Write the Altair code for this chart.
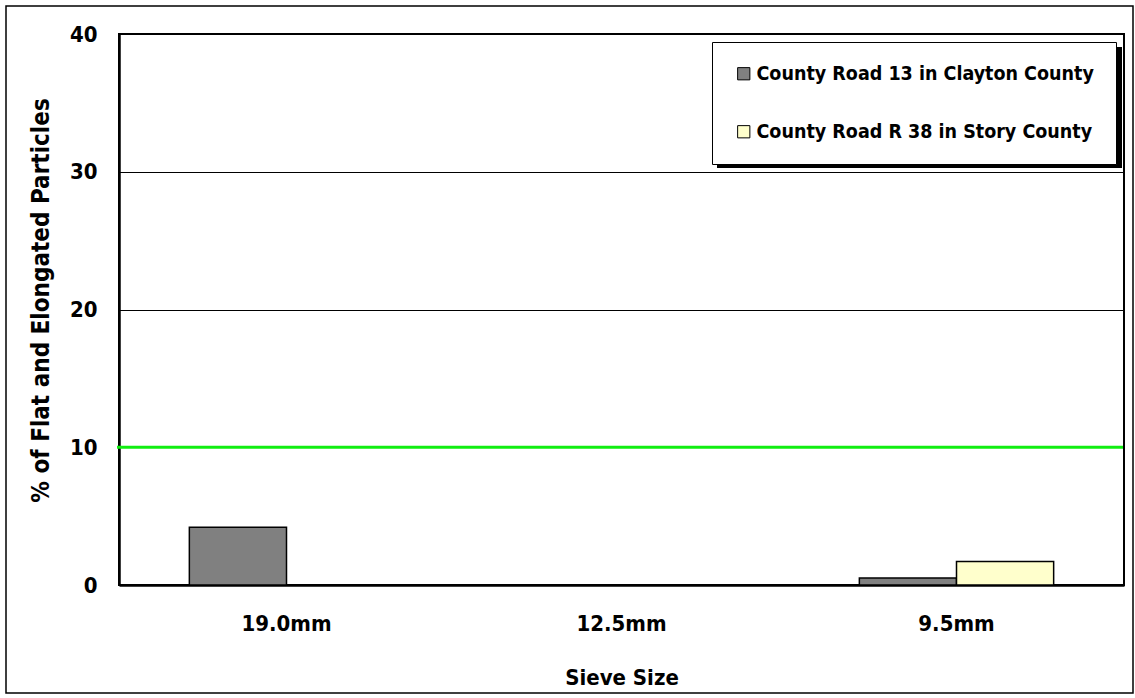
import altair as alt
import pandas as pd

# Sieve sizes on the x axis and the two aggregate sources
sieves = ["19.0mm", "12.5mm", "9.5mm"]
sources = ["County Road 13 in Clayton County", "County Road R 38 in Story County"]
source_colors = ["#808080", "#ffffcc"]

# % of flat and elongated particles per sieve (None = no measurement)
clayton_pct = [4.2, None, 0.5]
story_pct = [None, None, 1.7]

# specification limit drawn as a horizontal line
limit_pct = [10]

FONT = "DejaVu Sans Condensed, sans-serif"

rows = []
for sieve, c, s in zip(sieves, clayton_pct, story_pct):
    if c is not None:
        rows.append({"Sieve": sieve, "Source": sources[0], "Pct": c})
    if s is not None:
        rows.append({"Sieve": sieve, "Source": sources[1], "Pct": s})
df = pd.DataFrame(rows)
limit_df = pd.DataFrame({"Limit": limit_pct})

bars = alt.Chart(df).mark_bar(stroke="black", strokeWidth=1.5).encode(
    x=alt.X(
        "Sieve:N",
        sort=sieves,
        scale=alt.Scale(domain=sieves, paddingInner=0.42, paddingOuter=0.21),
        axis=alt.Axis(title="Sieve Size", labelAngle=0, ticks=False,
                      labelPadding=28, titlePadding=33),
    ),
    xOffset=alt.XOffset("Source:N", sort=sources, scale=alt.Scale(domain=sources)),
    y=alt.Y(
        "Pct:Q",
        scale=alt.Scale(domain=[0, 40], nice=False),
        axis=alt.Axis(title="% of Flat and Elongated Particles", values=[0, 10, 20, 30, 40],
                      ticks=False, labelPadding=22, titlePadding=16, titleFontSize=24,
                      titleY=266),
    ),
    color=alt.Color(
        "Source:N",
        sort=sources,
        scale=alt.Scale(domain=sources, range=source_colors),
        legend=alt.Legend(
            title=None, orient="none", legendX=593, legendY=8,
            symbolType="square", symbolSize=150, symbolStrokeColor="black",
            symbolStrokeWidth=1, labelFontSize=19.5, labelFont=FONT,
            labelFontWeight="bold", labelColor="black", rowPadding=37,
            padding=22, fillColor="white", strokeColor="black",
            labelLimit=500, labelOffset=3,
        ),
    ),
)

# drop shadow behind the legend box
shadow = alt.Chart(limit_df).mark_rect(color="black").encode(
    x=alt.value(598), x2=alt.value(1003), y=alt.value(13), y2=alt.value(134)
)

# outer chart frame
frame = alt.Chart(limit_df).mark_rect(fill=None, stroke="black", strokeWidth=1.5).encode(
    x=alt.value(-113), x2=alt.value(1014), y=alt.value(-28), y2=alt.value(659)
)

limit_line = alt.Chart(limit_df).mark_rule(color="#11ee11", strokeWidth=3).encode(
    y=alt.Y("Limit:Q"), x=alt.value(-2), x2=alt.value(1004)
)

chart = (
    alt.layer(frame, bars, limit_line, shadow)
    .properties(
        width=1005, height=551,
        autosize=alt.AutoSizeParams(type="none"),
        padding={"left": 119, "top": 34, "right": 11, "bottom": 113},
        background="white",
    )
    .configure_view(stroke="black", strokeWidth=2)
    .configure_axis(
        domainColor="black", domainWidth=2.5,
        grid=False, labelFont=FONT, labelFontWeight="bold", labelFontSize=22,
        labelColor="black", titleFont=FONT, titleFontWeight="bold",
        titleFontSize=22, titleColor="black",
    )
    .configure_axisY(grid=True, gridColor="black", gridWidth=1)
)

chart.save("out.html", embed_options={"renderer": "svg", "actions": False})
